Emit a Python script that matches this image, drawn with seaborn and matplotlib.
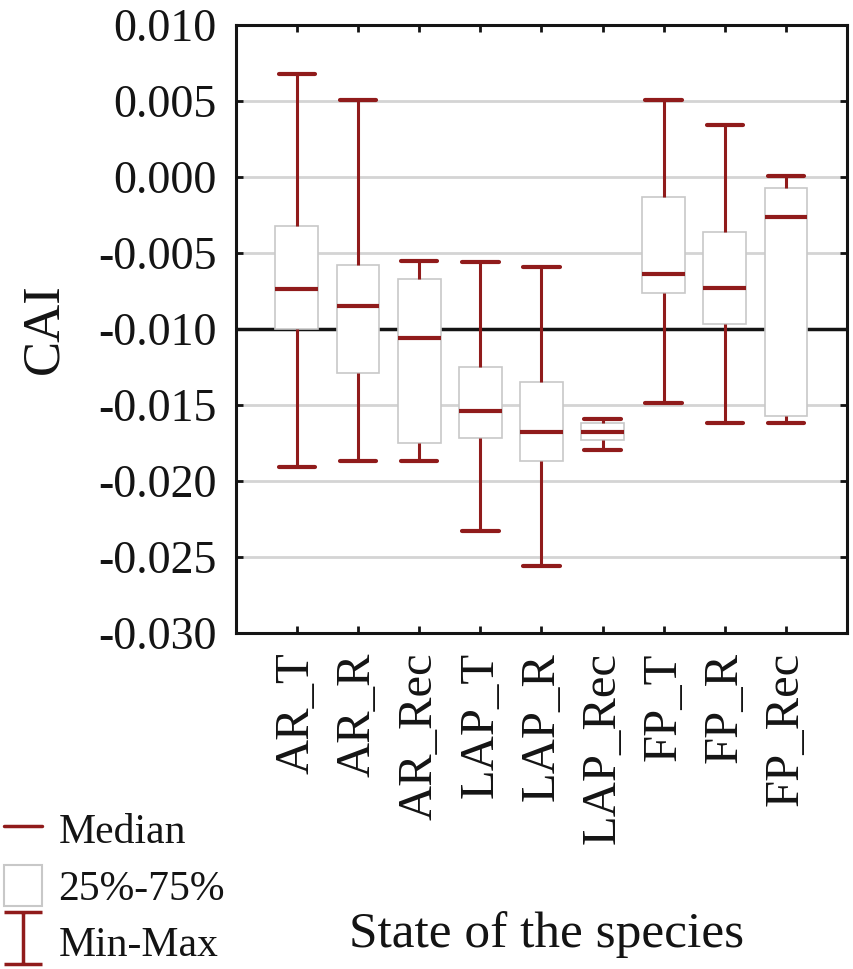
import pandas as pd
import seaborn as sns
import matplotlib.pyplot as plt
from matplotlib.lines import Line2D
from matplotlib.patches import Patch
from matplotlib.path import Path

# valori (min, Q1, mediana, Q3, max)
states = ['AR_T', 'AR_R', 'AR_Rec', 'LAP_T', 'LAP_R', 'LAP_Rec', 'FP_T', 'FP_R', 'FP_Rec']
mins = [-0.0191, -0.0187, -0.0187, -0.0233, -0.0256, -0.0180, -0.0149, -0.0162, -0.0162]
q1s = [-0.0100, -0.0129, -0.0175, -0.0172, -0.0187, -0.0173, -0.0076, -0.0097, -0.0157]
medians = [-0.0074, -0.0085, -0.0106, -0.0154, -0.0168, -0.0168, -0.0064, -0.0073, -0.0026]
q3s = [-0.0032, -0.0058, -0.0067, -0.0125, -0.0135, -0.0162, -0.0013, -0.0036, -0.0007]
maxs = [0.0068, 0.0051, -0.0055, -0.0056, -0.0059, -0.0159, 0.0051, 0.0034, 0.0001]

# 5 punti per gruppo -> i percentili coincidono con min/Q1/mediana/Q3/max
rows = []
for i, s in enumerate(states):
    for v in (mins[i], q1s[i], medians[i], q3s[i], maxs[i]):
        rows.append({'state': s, 'CAI': v})
df = pd.DataFrame(rows)

red = '#901b1b'
box_edge = '#c8c8c8'
ink = '#141414'

sns.set_style('ticks')
plt.rcParams['font.family'] = ['Liberation Serif', 'DejaVu Serif']
plt.rcParams['text.color'] = ink
plt.rcParams['xtick.color'] = ink
plt.rcParams['ytick.color'] = ink
plt.rcParams['axes.labelcolor'] = ink

fig = plt.figure(figsize=(8.54, 9.69), dpi=100)
ax = fig.add_axes([0.276, 0.347, 0.716, 0.627])

sns.boxplot(data=df, x='state', y='CAI', order=states, whis=(0, 100),
            width=0.7, color='white', linecolor=box_edge, linewidth=1.2,
            showfliers=False, ax=ax, capwidths=0.6,
            medianprops={'color': red, 'linewidth': 3},
            whiskerprops={'color': red, 'linewidth': 2.2},
            capprops={'color': red, 'linewidth': 3})

ax.set_ylim(-0.030, 0.010)
ax.set_xlim(-1, 9)
ax.set_yticks([0.010, 0.005, 0.000, -0.005, -0.010, -0.015, -0.020, -0.025, -0.030])
ax.set_yticklabels(['0.010', '0.005', '0.000', '-0.005', '-0.010', '-0.015',
                    '-0.020', '-0.025', '-0.030'])
ax.yaxis.grid(True, color='#d4d4d4', linewidth=2)
ax.set_axisbelow(True)
ax.axhline(-0.010, color=ink, linewidth=2.5, zorder=1)

for sp in ax.spines.values():
    sp.set_visible(True)
    sp.set_linewidth(2.2)
    sp.set_color(ink)

ax.tick_params(axis='y', direction='in', length=5, width=2, left=True, right=True,
               labelsize=33, pad=14)
ax.tick_params(axis='x', direction='in', length=5, width=2, bottom=True, top=True,
               labelsize=35, pad=14, labelrotation=90)
for lab in ax.get_xticklabels():
    lab.set_va('top')
    lab.set_ha('center')

ax.set_ylabel('CAI', fontsize=38, va='center')
ax.yaxis.set_label_coords(-0.313, 0.5)
ax.set_xlabel('State of the species', fontsize=37, va='center')
ax.xaxis.set_label_coords(0.508, -0.497)

# legenda
minmax = Path([(-0.75, 1), (0.75, 1), (0, 1), (0, -1), (-0.75, -1), (0.75, -1)],
              [Path.MOVETO, Path.LINETO, Path.MOVETO, Path.LINETO, Path.MOVETO, Path.LINETO])
handles = [Line2D([], [], color=red, linewidth=2.5),
           Patch(facecolor='white', edgecolor=box_edge, linewidth=1.5),
           Line2D([0], [0], marker=minmax, linestyle='none', markersize=37,
                  markeredgewidth=2.5, color=red, fillstyle='none')]
fig.legend(handles, ['Median', '25%-75%', 'Min-Max'], loc='lower left',
           bbox_to_anchor=(0.0, 0.0), frameon=False, fontsize=30, numpoints=1,
           handlelength=0.9, handleheight=1.15, handletextpad=0.4,
           labelspacing=0.3, borderpad=0.1, borderaxespad=0)

plt.savefig('out.png', dpi=100)
